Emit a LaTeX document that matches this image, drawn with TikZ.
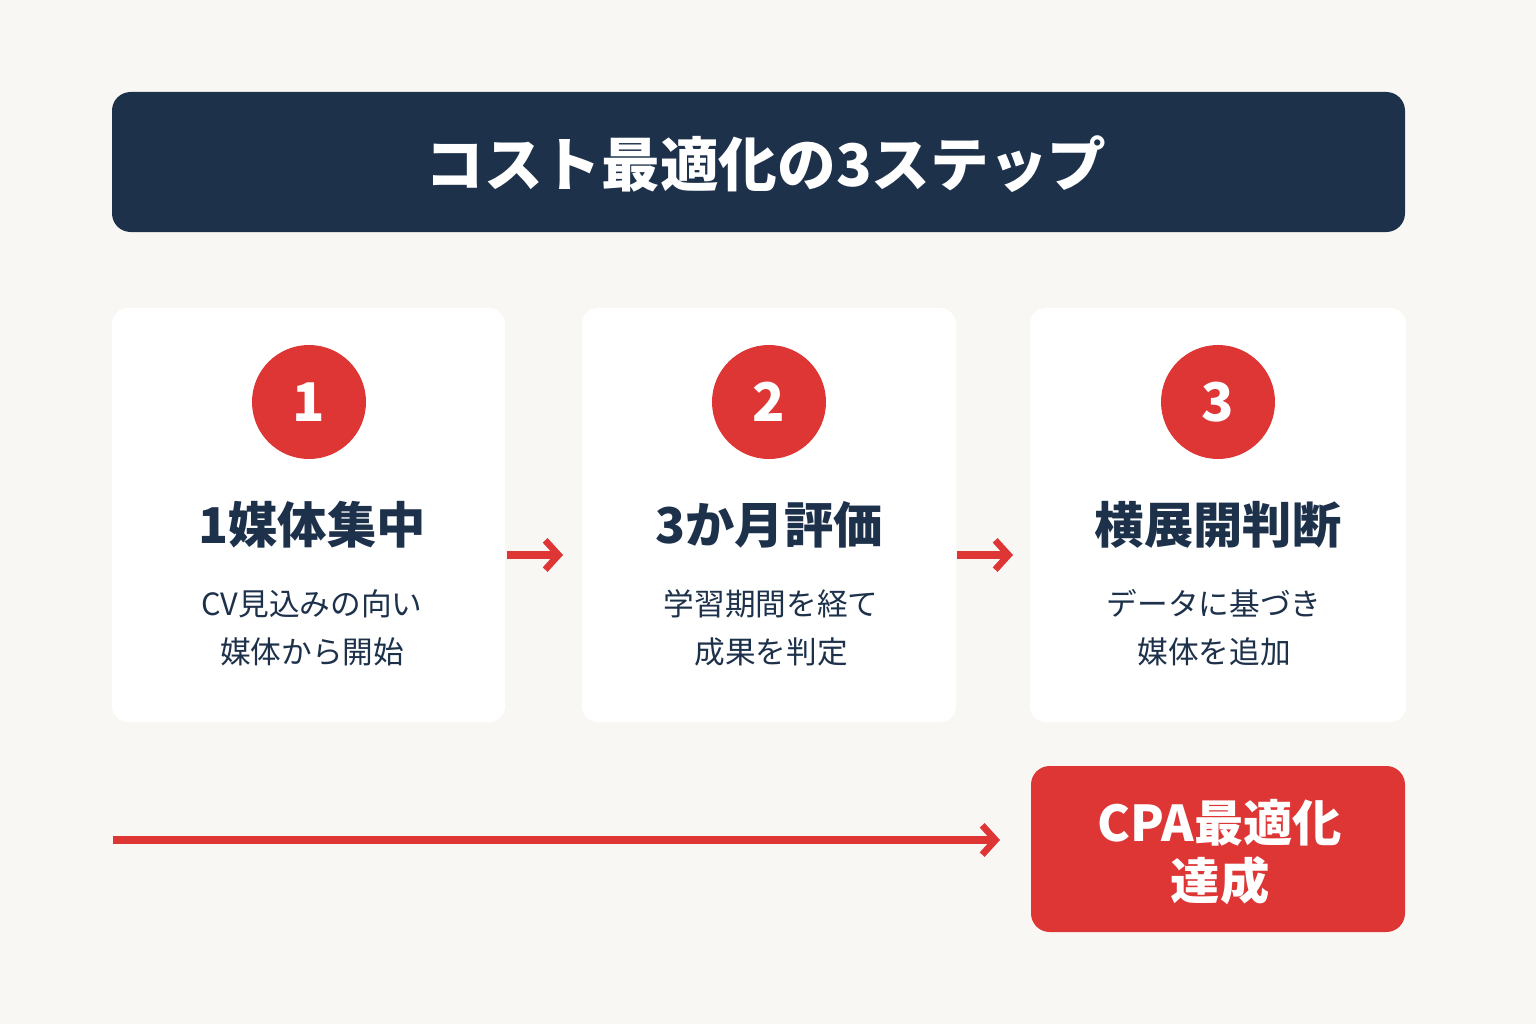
\documentclass[tikz,border=0pt]{standalone}
\usepackage{fontspec}
\setmainfont{Noto Sans CJK JP}
\newfontfamily\cjkb{Noto Sans CJK JP}[BoldFont={* Bold}]
\usetikzlibrary{arrows.meta}
\definecolor{bg}{HTML}{F9F7F4}
\definecolor{navy}{HTML}{1D314B}
\definecolor{red}{HTML}{DE3535}
\begin{document}
\begin{tikzpicture}[x=0.75pt,y=-0.75pt,
  card/.style={fill=white,rounded corners=12pt},
  num/.style={circle,fill=red,minimum size=85.5pt,text=white,font=\bfseries\fontsize{40}{40}\selectfont,inner sep=0},
  head/.style={text=navy,font=\bfseries\fontsize{37}{37}\selectfont},
  body/.style={text=navy,align=center,font=\fontsize{23}{36}\selectfont},
  redarrow/.style={draw=red,line width=6pt,-{Straight Barb[length=10pt,width=22pt,line width=5pt]}}]
\fill[bg] (0,0) rectangle (1536,1024);
\useasboundingbox (0,0) rectangle (1536,1024);
\fill[navy,rounded corners=14pt] (112,92) rectangle (1405,232);
\node[text=white,font=\bfseries\fontsize{44}{44}\selectfont] (title) at (766,164) {コスト最適化の3ステップ};
\fill[card] (112,308) rectangle (505,722);
\fill[card] (582,308) rectangle (956,722);
\fill[card] (1030,308) rectangle (1406,722);
\node[num] (n1) at (309,402) {1};
\node[num] (n2) at (769,402) {2};
\node[num] (n3) at (1218,402) {3};
\node[head] (h1) at (312,525) {1媒体集中};
\node[head] (h2) at (769,525) {3か月評価};
\node[head] (h3) at (1218,525) {横展開判断};
\node[body] (b1) at (312,628) {CV見込みの向い\\媒体から開始};
\node[body] (b2) at (771,628) {学習期間を経て\\成果を判定};
\node[body] (b3) at (1214,628) {データに基づき\\媒体を追加};
\coordinate (a1s) at (507,555); \coordinate (a1e) at (563,555);
\coordinate (a2s) at (957,555); \coordinate (a2e) at (1013,555);
\draw[redarrow] (a1s) -- (a1e);
\draw[redarrow] (a2s) -- (a2e);
\fill[red,rounded corners=14pt] (1031,766) rectangle (1405,932);
\node[text=white,align=center,font=\bfseries\fontsize{37}{44}\selectfont] (cpa) at (1220,852) {CPA最適化\\達成};
\coordinate (ls) at (113,840); \coordinate (le) at (1000,840);
\draw[redarrow] (ls) -- (le);
\end{tikzpicture}
\end{document}
